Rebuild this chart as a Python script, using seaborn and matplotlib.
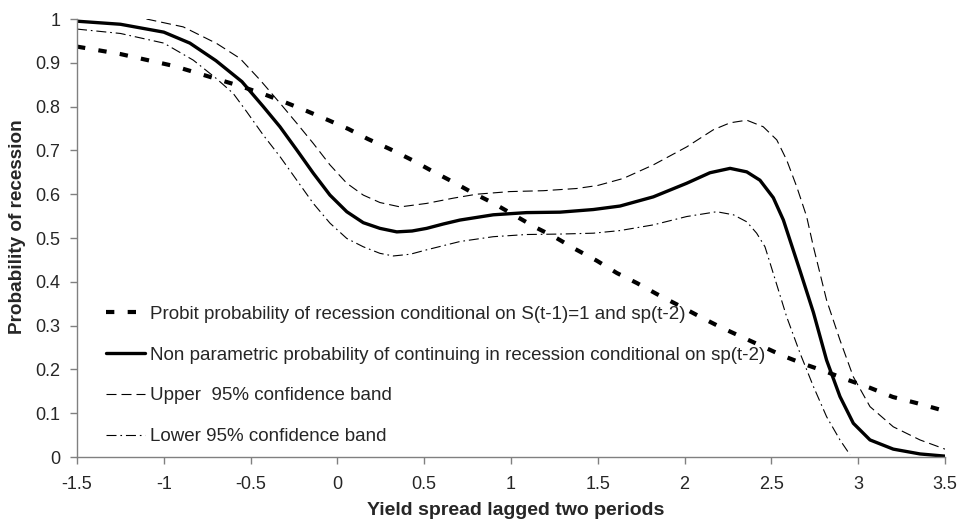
import matplotlib
matplotlib.use('Agg')
import matplotlib.pyplot as plt
import seaborn as sns

# probit probability of recession conditional on S(t-1)=1 and sp(t-2)
probit_x = [-1.5, -1.25, -0.945, -0.81, -0.686, -0.561, -0.427, -0.302, -0.177, -0.052,
            0.063, 0.176, 0.303, 0.43, 0.545, 0.666, 0.78, 0.896, 1.138, 1.253, 1.369,
            1.495, 1.61, 1.726, 1.84, 1.962, 2.09, 2.204, 2.33, 2.446, 2.567, 2.69,
            2.82, 2.94, 3.068, 3.2, 3.338, 3.5]
probit_y = [0.937, 0.92, 0.893, 0.877, 0.862, 0.847, 0.829, 0.81, 0.79, 0.769,
            0.749, 0.726, 0.703, 0.678, 0.653, 0.628, 0.603, 0.58, 0.525, 0.502, 0.475,
            0.448, 0.42, 0.397, 0.372, 0.347, 0.32, 0.297, 0.274, 0.253, 0.231, 0.212,
            0.194, 0.176, 0.158, 0.137, 0.123, 0.105]

# non parametric probability of continuing in recession
np_x = [-1.5, -1.25, -1.0, -0.85, -0.7, -0.55, -0.427, -0.331, -0.234, -0.139, -0.043,
        0.054, 0.149, 0.245, 0.342, 0.43, 0.514, 0.61, 0.706, 0.898, 1.09, 1.282, 1.474,
        1.628, 1.82, 2.012, 2.146, 2.262, 2.358, 2.434, 2.511, 2.569, 2.617, 2.665,
        2.742, 2.818, 2.895, 2.972, 3.068, 3.202, 3.356, 3.5]
np_y = [0.995, 0.988, 0.97, 0.945, 0.905, 0.857, 0.8, 0.754, 0.701, 0.648, 0.598,
        0.56, 0.535, 0.522, 0.514, 0.516, 0.522, 0.532, 0.541, 0.553, 0.558, 0.559, 0.565,
        0.573, 0.594, 0.625, 0.649, 0.659, 0.651, 0.632, 0.592, 0.541, 0.483, 0.425,
        0.33, 0.221, 0.138, 0.077, 0.039, 0.018, 0.007, 0.002]

# upper 95% confidence band
up_x = [-1.1, -0.888, -0.695, -0.561, -0.446, -0.331, -0.234, -0.139, -0.043, 0.054,
        0.149, 0.245, 0.361, 0.514, 0.668, 0.802, 0.994, 1.186, 1.378, 1.5, 1.647, 1.82,
        2.012, 2.165, 2.262, 2.358, 2.453, 2.531, 2.588, 2.646, 2.703, 2.742, 2.818,
        2.895, 2.972, 3.068, 3.202, 3.356, 3.5]
up_y = [1.0, 0.982, 0.944, 0.91, 0.861, 0.808, 0.762, 0.716, 0.667, 0.625,
        0.598, 0.581, 0.571, 0.579, 0.591, 0.6, 0.606, 0.608, 0.613, 0.62, 0.636, 0.667,
        0.708, 0.747, 0.763, 0.769, 0.754, 0.724, 0.678, 0.617, 0.549, 0.48, 0.358,
        0.267, 0.183, 0.115, 0.069, 0.039, 0.018]

# lower 95% confidence band
low_x = [-1.5, -1.25, -1.0, -0.83, -0.7, -0.6, -0.522, -0.427, -0.331, -0.234, -0.139,
         -0.043, 0.054, 0.149, 0.245, 0.322, 0.42, 0.514, 0.706, 0.898, 1.09, 1.282,
         1.474, 1.628, 1.82, 2.012, 2.185, 2.281, 2.358, 2.415, 2.463, 2.511, 2.588,
         2.665, 2.742, 2.818, 2.895, 2.953]
low_y = [0.977, 0.967, 0.945, 0.906, 0.865, 0.83, 0.788, 0.735, 0.686, 0.632, 0.579,
         0.534, 0.499, 0.48, 0.465, 0.459, 0.463, 0.473, 0.492, 0.503, 0.508, 0.509,
         0.511, 0.517, 0.53, 0.549, 0.56, 0.553, 0.537, 0.511, 0.48, 0.419, 0.32,
         0.237, 0.161, 0.092, 0.039, 0.005]

labels = ['Probit probability of recession conditional on S(t-1)=1 and sp(t-2)',
          'Non parametric probability of continuing in recession conditional on sp(t-2)',
          'Upper  95% confidence band',
          'Lower 95% confidence band']

sns.set_style('ticks')
plt.rcParams['font.family'] = ['Liberation Sans', 'DejaVu Sans']

fig = plt.figure(figsize=(9.59, 5.25), dpi=100)
ax = fig.add_axes([0.0803, 0.1295, 0.9051, 0.8343])

sns.lineplot(x=probit_x, y=probit_y, ax=ax, color='black', lw=3,
             linestyle=(0, (2.0, 3.2)), label=labels[0])
sns.lineplot(x=np_x, y=np_y, ax=ax, color='black', lw=2.4, label=labels[1])
sns.lineplot(x=up_x, y=up_y, ax=ax, color='black', lw=0.8,
             linestyle=(0, (9, 4.5)), label=labels[2])
sns.lineplot(x=low_x, y=low_y, ax=ax, color='black', lw=0.8,
             linestyle=(0, (9, 3.5, 1.5, 3.5)), label=labels[3])

ax.set_xlim(-1.5, 3.5)
ax.set_ylim(0, 1)
ax.set_xticks([-1.5, -1, -0.5, 0, 0.5, 1, 1.5, 2, 2.5, 3, 3.5])
ax.set_xticklabels(['-1.5', '-1', '-0.5', '0', '0.5', '1', '1.5', '2', '2.5', '3', '3.5'])
ax.set_yticks([i / 10 for i in range(11)])
ax.set_yticklabels(['0', '0.1', '0.2', '0.3', '0.4', '0.5', '0.6', '0.7', '0.8', '0.9', '1'])
ax.tick_params(labelsize=13, length=5, width=1, color='#808080', pad=7)
ax.tick_params(axis='x', pad=9)
sns.despine(ax=ax)
for s in ['left', 'bottom']:
    ax.spines[s].set_color('#808080')
    ax.spines[s].set_linewidth(1)

ax.set_xlabel('Yield spread lagged two periods', fontsize=14, fontweight='bold')
ax.set_ylabel('Probability of recession', fontsize=13.6, fontweight='bold')
ax.xaxis.set_label_coords(0.505, -0.123)
ax.xaxis.label.set_va('center')
ax.yaxis.set_label_coords(-0.069, 0.525)
ax.yaxis.label.set_va('center')

ax.legend(loc='upper left', bbox_to_anchor=(0.0334, 0.346), frameon=False, fontsize=13.5,
          handlelength=2.08, handletextpad=0.27, labelspacing=1.27, borderpad=0,
          borderaxespad=0)

fig.savefig('out.png', dpi=100)
